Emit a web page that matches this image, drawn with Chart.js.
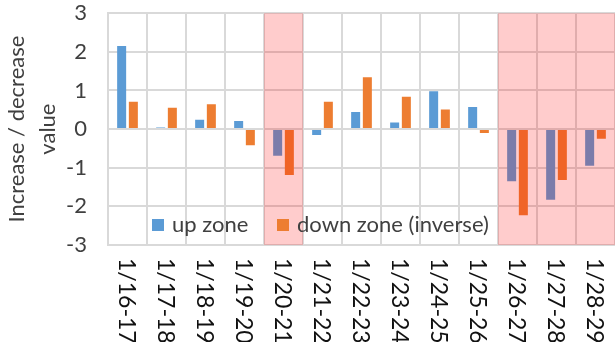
<!DOCTYPE html>
<html>
<head>
<meta charset="utf-8">
<script src="https://cdn.jsdelivr.net/npm/chart.js@4/dist/chart.umd.min.js"></script>
<style>
  html, body { margin: 0; padding: 0; background: #ffffff; }
  #wrap { width: 615px; height: 342px; position: relative; }
</style>
</head>
<body>
<div id="wrap"><canvas id="chart"></canvas></div>
<script>
// Day-pair categories along the x axis
const categories = ['1/16-17', '1/17-18', '1/18-19', '1/19-20', '1/20-21', '1/21-22', '1/22-23',
                    '1/23-24', '1/24-25', '1/25-26', '1/26-27', '1/27-28', '1/28-29'];
// Increase / decrease values per series
const upZone   = [2.15, 0.04, 0.24, 0.21, -0.69, -0.15, 0.44, 0.17, 0.98, 0.57, -1.35, -1.83, -0.95];
const downZone = [0.71, 0.55, 0.64, -0.42, -1.19, 0.71, 1.34, 0.84, 0.51, -0.10, -2.23, -1.32, -0.25];
// Categories highlighted with a red band (1 = highlighted)
const highlighted = [0, 0, 0, 0, 1, 0, 0, 0, 0, 0, 1, 1, 1];
// Value axis tick range
const yTicks = [-3, -2, -1, 0, 1, 2, 3];

const FONT = 'Lato';
const TEXT = '#404040';
const GRID = '#d9d9d9';

// Translucent band over highlighted categories (drawn above the bars)
const bandPlugin = {
  id: 'bands',
  afterDatasetsDraw(chart) {
    const { ctx, chartArea, scales: { x } } = chart;
    const w = x.width / categories.length;
    ctx.save();
    ctx.fillStyle = 'rgba(255, 0, 0, 0.2)';
    highlighted.forEach((h, i) => {
      if (!h) return;
      const cx = x.getPixelForValue(i);
      ctx.fillRect(cx - w / 2, chartArea.top, w, chartArea.bottom - chartArea.top);
    });
    ctx.restore();
  }
};

// Category labels rotated clockwise, reading downward from the axis
const xLabelPlugin = {
  id: 'xLabels',
  afterDraw(chart) {
    const { ctx, chartArea, scales: { x } } = chart;
    ctx.save();
    ctx.font = '23px ' + FONT;
    ctx.fillStyle = '#111111';
    ctx.textAlign = 'left';
    ctx.textBaseline = 'middle';
    categories.forEach((c, i) => {
      const cx = x.getPixelForValue(i);
      ctx.save();
      ctx.translate(cx - 1, chartArea.bottom + 13);
      ctx.rotate(Math.PI / 2);
      ctx.fillText(c, 0, 0);
      ctx.restore();
    });
    ctx.restore();
  }
};

// Legend placed inside the plot, near the bottom
const innerLegendPlugin = {
  id: 'innerLegend',
  afterDraw(chart) {
    const { ctx, chartArea } = chart;
    const ds = chart.data.datasets;
    const startX = [152, 277];
    const y = chartArea.bottom - 20;
    ctx.save();
    ctx.font = '22px ' + FONT;
    ctx.textBaseline = 'middle';
    ctx.textAlign = 'left';
    ds.forEach((d, i) => {
      ctx.fillStyle = d.backgroundColor;
      ctx.fillRect(startX[i], y - 6, 12, 12);
      ctx.fillStyle = TEXT;
      ctx.fillText(d.label, startX[i] + 20, y);
    });
    ctx.restore();
  }
};

new Chart(document.getElementById('chart'), {
  type: 'bar',
  data: {
    labels: categories,
    datasets: [
      { label: 'up zone', data: upZone, backgroundColor: '#5b9bd5',
        categoryPercentage: 0.6, barPercentage: 0.77 },
      { label: 'down zone (inverse)', data: downZone, backgroundColor: '#ed7d31',
        categoryPercentage: 0.6, barPercentage: 0.77 }
    ]
  },
  options: {
    responsive: true,
    maintainAspectRatio: false,
    animation: false,
    layout: { padding: { top: 1, right: 0, bottom: 0, left: 0 } },
    plugins: {
      legend: { display: false },
      tooltip: { enabled: false }
    },
    scales: {
      x: {
        type: 'category',
        offset: true,
        grid: { offset: true, color: GRID, lineWidth: 2, drawTicks: false },
        border: { color: GRID, width: 2 },
        ticks: { display: false },
        afterFit(scale) { scale.height = 97; }
      },
      y: {
        min: yTicks[0],
        max: yTicks[yTicks.length - 1],
        afterBuildTicks(scale) { scale.ticks = yTicks.map(v => ({ value: v })); },
        grid: { color: GRID, lineWidth: 2, drawTicks: true, tickLength: 21, tickColor: 'rgba(0,0,0,0)' },
        border: { color: GRID, width: 2 },
        ticks: {
          padding: 0,
          color: TEXT,
          font: { family: FONT, size: 22 }
        },
        title: {
          display: true,
          text: ['Increase / decrease', 'value'],
          color: TEXT,
          font: { family: FONT, size: 22, lineHeight: 1.4 },
          padding: { top: 2, bottom: 0 }
        },
        afterFit(scale) { scale.width = 108; }
      }
    }
  },
  plugins: [bandPlugin, xLabelPlugin, innerLegendPlugin]
});
</script>
</body>
</html>
